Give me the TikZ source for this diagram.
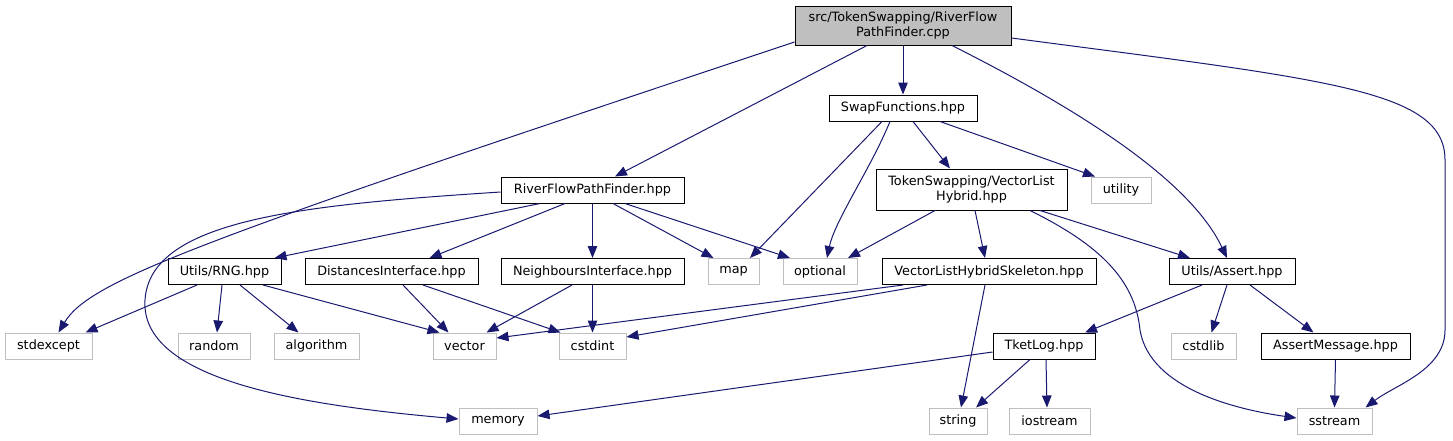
\documentclass[tikz,border=0pt]{standalone}
\usepackage{fontspec}
\newfontfamily\dv{DejaVu Sans}
\usetikzlibrary{arrows.meta}
\definecolor{edgeblue}{RGB}{25,25,112}
\definecolor{sysgray}{RGB}{191,191,191}
\tikzset{
  box/.style={draw=black, fill=white, line width=1pt, minimum height=26pt, inner sep=0pt,
    align=center, font=\dv\fontsize{12.8}{15}\selectfont},
  sysbox/.style={box, draw=sysgray},
  rootbox/.style={box, fill=sysgray, minimum height=39pt},
  edge/.style={draw=edgeblue, line width=1pt, -{Triangle[length=12pt,width=9.5pt]}}
}
\begin{document}
\begin{tikzpicture}[x=1pt,y=-1pt]
\useasboundingbox (0,0) rectangle (1453,440);
% nodes
\node[rootbox, minimum width=216pt] (root) at (903,25.5) {src/TokenSwapping/RiverFlow\\PathFinder.cpp};
\node[box, minimum width=148pt] (swap) at (903,108) {SwapFunctions.hpp};
\node[box, minimum width=183pt] (rfpf) at (592.5,190) {RiverFlowPathFinder.hpp};
\node[box, minimum width=191pt, minimum height=41pt] (vlh) at (971.5,189.5) {TokenSwapping/VectorList\\Hybrid.hpp};
\node[sysbox, minimum width=60pt] (utility) at (1121,190) {utility};
\node[box, minimum width=113pt] (rng) at (224.5,271.5) {Utils/RNG.hpp};
\node[box, minimum width=173pt] (dist) at (391.5,271.5) {DistancesInterface.hpp};
\node[box, minimum width=183pt] (ni) at (592.5,271.5) {NeighboursInterface.hpp};
\node[sysbox, minimum width=51pt] (map) at (733.5,271.5) {map};
\node[sysbox, minimum width=74pt] (optional) at (820,271.5) {optional};
\node[box, minimum width=214pt] (vlhs) at (989,271.5) {VectorListHybridSkeleton.hpp};
\node[box, minimum width=126pt] (assert) at (1232,271.5) {Utils/Assert.hpp};
\node[sysbox, minimum width=87pt] (stdexcept) at (48.5,346) {stdexcept};
\node[sysbox, minimum width=72pt] (random) at (214,346) {random};
\node[sysbox, minimum width=85pt] (algorithm) at (316.5,346) {algorithm};
\node[sysbox, minimum width=63pt] (vector) at (464.5,346) {vector};
\node[sysbox, minimum width=67pt] (cstdint) at (592.5,346) {cstdint};
\node[box, minimum width=102pt] (tketlog) at (1044,346) {TketLog.hpp};
\node[sysbox, minimum width=65pt] (cstdlib) at (1203.5,346) {cstdlib};
\node[box, minimum width=149pt] (assertmsg) at (1335.5,346) {AssertMessage.hpp};
\node[sysbox, minimum width=78pt] (memory) at (498,421) {memory};
\node[sysbox, minimum width=58pt] (string) at (958,421) {string};
\node[sysbox, minimum width=81pt] (iostream) at (1049.5,421) {iostream};
\node[sysbox, minimum width=75pt] (sstream) at (1334.5,421) {sstream};
% root edges
\draw[edge] (root.south) -- (swap.north);
\draw[edge] ([xshift=-36pt]root.south) -- ([xshift=22.5pt]rfpf.north);
\draw[edge] ([yshift=-16.5pt]root.west) .. controls (200,240) and (90,280) .. ([xshift=10pt]stdexcept.north);
\draw[edge] ([xshift=49pt]root.south) .. controls (1080,110) and (1190,180) .. ([xshift=-5pt]assert.north);
\draw[edge] ([yshift=-12.5pt]root.east) .. controls (1330,80) and (1445,90) .. (1445,160) -- (1445,330) .. controls (1445,370) and (1395,385) .. ([xshift=31pt]sstream.north);
% swap edges
\draw[edge] ([xshift=-21pt]swap.south) -- ([xshift=16.5pt]map.north);
\draw[edge] ([xshift=-13pt]swap.south) .. controls (870,170) and (835,220) .. ([xshift=7pt]optional.north);
\draw[edge] ([xshift=10pt]swap.south) -- ([xshift=-21.5pt]vlh.north);
\draw[edge] ([xshift=37pt]swap.south) -- ([xshift=-26pt]utility.north);
% rfpf edges
\draw[edge] ([yshift=-2pt]rfpf.west) .. controls (300,205) and (150,220) .. (145,300) .. controls (140,380) and (300,405) .. ([yshift=2pt]memory.west);
\draw[edge] ([xshift=-52.5pt]rfpf.south) -- ([xshift=50pt]rng.north);
\draw[edge] ([xshift=-27.5pt]rfpf.south) -- ([xshift=38pt]dist.north);
\draw[edge] (rfpf.south) -- (ni.north);
\draw[edge] ([xshift=20.5pt]rfpf.south) -- ([xshift=-20pt]map.north);
\draw[edge] ([xshift=32.5pt]rfpf.south) -- ([xshift=-30pt]optional.north);
% vlh edges
\draw[edge] ([xshift=-36.5pt]vlh.south) -- ([xshift=28pt]optional.north);
\draw[edge] ([xshift=3.5pt]vlh.south) -- ([xshift=-4pt]vlhs.north);
\draw[edge] ([xshift=68.5pt]vlh.south) -- ([xshift=-42pt]assert.north);
\draw[edge] ([xshift=58.5pt]vlh.south) .. controls (1100,245) and (1135,280) .. (1140,330) .. controls (1150,390) and (1240,410) .. ([yshift=3pt]sstream.west);
% rng edges
\draw[edge] ([xshift=-27.5pt]rng.south) -- ([xshift=37pt]stdexcept.north);
\draw[edge] ([xshift=-2.5pt]rng.south) -- ([xshift=3pt]random.north);
\draw[edge] ([xshift=15.5pt]rng.south) -- ([xshift=-18pt]algorithm.north);
\draw[edge] ([xshift=38.5pt]rng.south) -- ([xshift=-25pt]vector.north);
% dist edges
\draw[edge] ([xshift=11.5pt]dist.south) -- ([xshift=-16pt]vector.north);
\draw[edge] ([xshift=31.5pt]dist.south) -- ([xshift=-32pt]cstdint.north);
% ni edges
\draw[edge] ([xshift=-20.5pt]ni.south) -- ([xshift=22pt]vector.north);
\draw[edge] (ni.south) -- (cstdint.north);
% vlhs edges
\draw[edge] ([xshift=-86pt]vlhs.south) -- ([yshift=8pt]vector.east);
\draw[edge] ([xshift=-62pt]vlhs.south) -- ([yshift=9pt]cstdint.east);
\draw[edge] ([xshift=-4pt]vlhs.south) -- ([xshift=3pt]string.north);
% assert edges
\draw[edge] ([xshift=-30pt]assert.south) -- ([xshift=41pt]tketlog.north);
\draw[edge] ([xshift=-5pt]assert.south) -- ([xshift=8pt]cstdlib.north);
\draw[edge] ([xshift=18pt]assert.south) -- ([xshift=-22pt]assertmsg.north);
% tketlog edges
\draw[edge] ([yshift=-6pt]tketlog.west) -- ([yshift=5pt]memory.east);
\draw[edge] ([xshift=-14pt]tketlog.south) -- ([xshift=18pt]string.north);
\draw[edge] ([xshift=2pt]tketlog.south) -- ([xshift=-2.5pt]iostream.north);
% assertmsg edge
\draw[edge] (assertmsg.south) -- (sstream.north);
\end{tikzpicture}
\end{document}
